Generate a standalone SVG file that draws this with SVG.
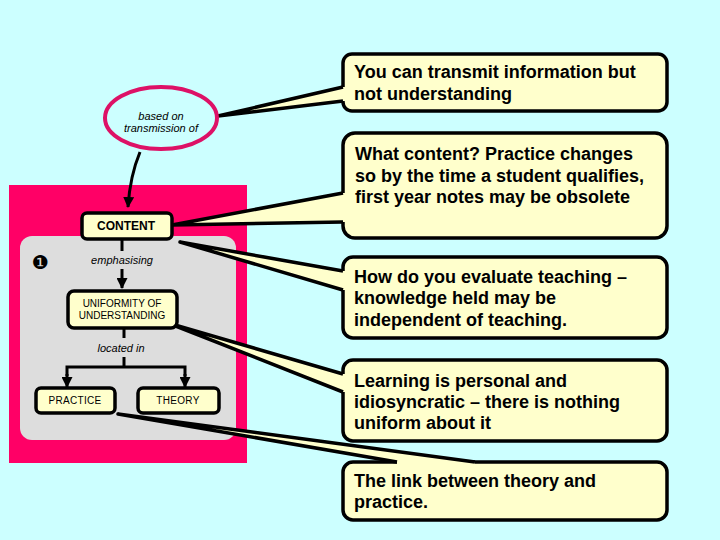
<svg xmlns="http://www.w3.org/2000/svg" width="720" height="540" viewBox="0 0 720 540">
<defs>
<marker id="ah" markerWidth="11" markerHeight="11" refX="10" refY="5.5" orient="auto" markerUnits="userSpaceOnUse">
<path d="M0,0 L11,5.5 L0,11 Z" fill="#000"/>
</marker>
<style>
.box{fill:#ffffcc;stroke:#000;stroke-width:3.5}
.cbox{fill:#ffffcc;stroke:#000;stroke-width:3.5}
.ct{font-family:"Liberation Sans",Arial,sans-serif;font-weight:bold;font-size:18px;fill:#000}
.nt{font-family:"Liberation Sans",Arial,sans-serif;font-size:10px;fill:#000;text-anchor:middle}
.it{font-family:"Liberation Sans",Arial,sans-serif;font-style:italic;font-size:11px;fill:#000;text-anchor:middle}
.ln{fill:none;stroke:#000;stroke-width:3}
.wf{fill:#ffffcc;stroke:none}
.ws{fill:none;stroke:#000;stroke-width:3.5;stroke-linejoin:round}
</style>
</defs>
<rect x="0" y="0" width="720" height="540" fill="#ccffff"/>

<g id="frame">
<rect x="9" y="185" width="238" height="278" fill="#ff0066"/>
<rect x="20" y="236" width="216" height="204" rx="12" fill="#dddddd"/>
<text x="40" y="269" font-family="DejaVu Sans,sans-serif" font-size="19" text-anchor="middle" fill="#000">❶</text>
</g>

<g id="callout1">
<rect class="cbox" x="343" y="54" width="324" height="57" rx="9"/>
<text class="ct" x="354" y="78">You can transmit information but</text>
<text class="ct" x="354" y="100">not understanding</text>
</g>
<g id="callout2">
<rect class="cbox" x="343" y="133" width="324" height="105" rx="12"/>
<text class="ct" x="355" y="160">What content? Practice changes</text>
<text class="ct" x="355" y="182">so by the time a student qualifies,</text>
<text class="ct" x="355" y="203">first year notes may be obsolete</text>
</g>
<g id="callout3">
<rect class="cbox" x="343" y="257" width="324" height="81" rx="10"/>
<text class="ct" x="354" y="283">How do you evaluate teaching –</text>
<text class="ct" x="354" y="304">knowledge held may be</text>
<text class="ct" x="354" y="326">independent of teaching.</text>
</g>
<g id="callout4">
<rect class="cbox" x="343" y="360" width="324" height="81" rx="10"/>
<text class="ct" x="354" y="387">Learning is personal and</text>
<text class="ct" x="354" y="408">idiosyncratic – there is nothing</text>
<text class="ct" x="354" y="429">uniform about it</text>
</g>
<g id="callout5">
<rect class="cbox" x="343" y="462" width="324" height="58" rx="10"/>
<text class="ct" x="354" y="487">The link between theory and</text>
<text class="ct" x="354" y="508">practice.</text>
</g>

<g id="connectors">
<path class="ln" d="M140,152 Q130,176 128,207" marker-end="url(#ah)"/>
<line class="ln" x1="122" y1="239" x2="122" y2="251"/>
<line class="ln" x1="122" y1="269" x2="122" y2="288" marker-end="url(#ah)"/>
<line class="ln" x1="124" y1="328" x2="124" y2="338"/>
<line class="ln" x1="124" y1="357" x2="124" y2="367"/>
<polyline class="ln" points="67,376 67,367 185,367 185,376"/>
<line class="ln" x1="67" y1="374" x2="67" y2="387" marker-end="url(#ah)"/>
<line class="ln" x1="185" y1="374" x2="185" y2="387" marker-end="url(#ah)"/>

<polygon class="wf" points="218,116 343,87 347,87 347,101 343,101"/>
<polyline class="ws" points="343,87 218,116 343,101"/>

<polygon class="wf" points="172,225 343,193 347,193 347,222 343,222"/>
<polyline class="ws" points="343,193 172,225 343,222"/>

<polygon class="wf" points="180,242 343,271 347,271 347,290 343,290"/>
<polyline class="ws" points="343,271 180,242 343,290"/>

<polygon class="wf" points="168,323 343,374 347,374 347,392 343,392"/>
<polyline class="ws" points="343,374 168,323 343,392"/>

<polygon class="wf" points="118,414 475,462 475,466 397,466 397,462"/>
<polyline class="ws" points="397,462 118,414 475,462"/>
</g>

<g id="ellipse">
<ellipse cx="161" cy="118" rx="56" ry="31" fill="#ccffff" stroke="#dd1166" stroke-width="4"/>
<text class="it" x="161" y="120">based on</text>
<text class="it" x="161" y="132">transmission of</text>
</g>
<g id="content">
<rect class="box" x="82" y="213" width="90" height="26" rx="5"/>
<text x="126" y="230" font-family="Liberation Sans,Arial,sans-serif" font-weight="bold" font-size="12" text-anchor="middle">CONTENT</text>
</g>
<g id="emph">
<text class="it" x="122" y="264">emphasising</text>
</g>
<g id="uniformity">
<rect class="box" x="68" y="291" width="109" height="37" rx="6"/>
<text class="nt" x="122" y="307">UNIFORMITY OF</text>
<text class="nt" x="122" y="319">UNDERSTANDING</text>
</g>
<g id="located">
<text class="it" x="121" y="352">located in</text>
</g>
<g id="practice">
<rect class="box" x="36" y="388" width="79" height="25" rx="5"/>
<text class="nt" x="75" y="404" letter-spacing="0.3">PRACTICE</text>
</g>
<g id="theory">
<rect class="box" x="138" y="388" width="81" height="25" rx="5"/>
<text class="nt" x="178" y="404" letter-spacing="0.3">THEORY</text>
</g>
</svg>
